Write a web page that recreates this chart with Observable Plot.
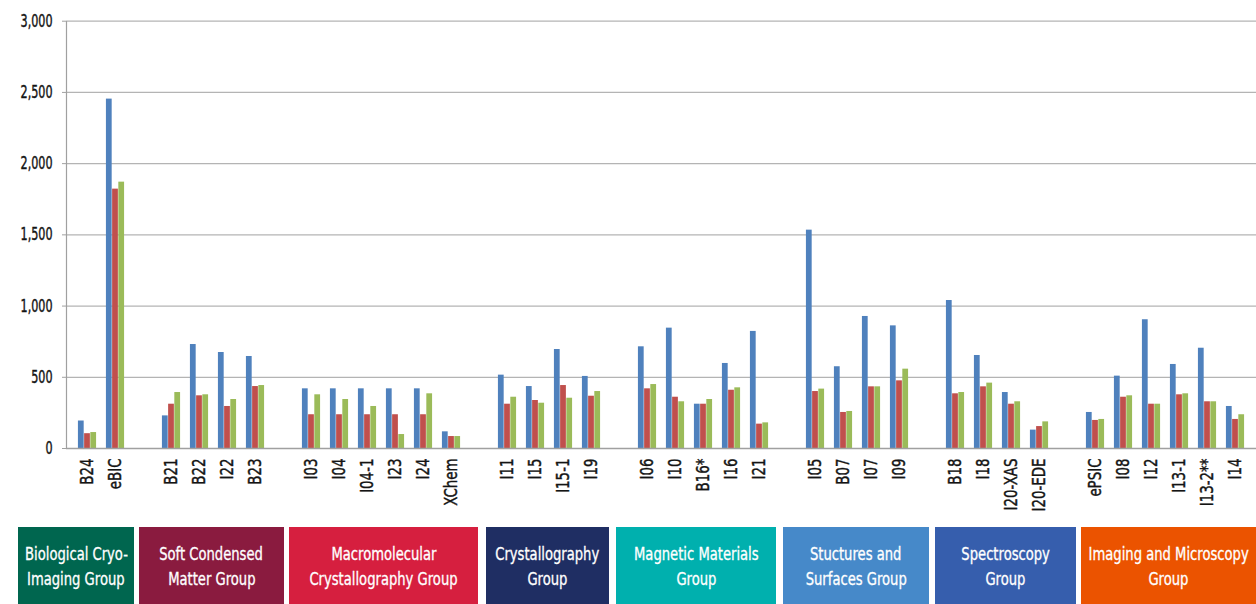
<!DOCTYPE html>
<html><head><meta charset="utf-8">
<script src="https://cdn.jsdelivr.net/npm/d3@7"></script>
<script src="https://cdn.jsdelivr.net/npm/@observablehq/plot@0.6"></script>
<style>
body{margin:0;background:#fff;}
#wrap{position:relative;width:1256px;height:604px;overflow:hidden;font-family:"DejaVu Sans",sans-serif;}
#chart{position:absolute;left:0;top:0;}
.box{position:absolute;top:527px;height:77px;color:#fff;display:flex;flex-direction:column;align-items:center;justify-content:center;text-align:center;font-size:18px;line-height:25px;white-space:nowrap;-webkit-text-stroke:0.35px #fff;}
.box div{display:inline-block;}
</style></head>
<body><div id="wrap"><div id="chart"></div></div>
<script>
// ---- data ----
const groupLabels = [
  ["Biological Cryo-","Imaging Group"],
  ["Soft Condensed","Matter Group"],
  ["Macromolecular","Crystallography Group"],
  ["Crystallography","Group"],
  ["Magnetic Materials","Group"],
  ["Stuctures and","Surfaces Group"],
  ["Spectroscopy","Group"],
  ["Imaging and Microscopy","Group"]
];
const groupMembers = [
  ["B24","eBIC"],
  ["B21","B22","I22","B23"],
  ["I03","I04","I04-1","I23","I24","XChem"],
  ["I11","I15","I15-1","I19"],
  ["I06","I10","B16*","I16","I21"],
  ["I05","B07","I07","I09"],
  ["B18","I18","I20-XAS","I20-EDE"],
  ["ePSIC","I08","I12","I13-1","I13-2**","I14"]
];
const series1 = [193,2453, 229,730,674,646, 419,419,419,419,419,117, 515,435,695,506, 714,845,311,597,822, 1533,574,927,861, 1039,653,393,129, 253,508,904,590,704,295];
const series2 = [104,1821, 311,370,295,435, 237,237,237,237,237,84, 311,337,442,367, 419,360,311,409,171, 400,253,433,475, 384,433,311,154, 197,360,311,377,328,204];
const series3 = [112,1870, 393,377,344,442, 377,344,295,98,384,84, 360,318,353,400, 449,328,344,426,180, 417,260,433,557, 393,459,328,187, 204,370,311,384,328,237];
const seriesNames = ["Series 1","Series 2","Series 3"];
const yTicks = [0,500,1000,1500,2000,2500,3000];

// ---- styles / layout ----
const seriesColors = ["#4F81BD","#C0504D","#9BBB59"];
const groupColors = ["#00664F","#8A1B3F","#D61F3F","#1F2E63","#00B0AE","#4689C9","#365EAD","#EB5300"];
const boxExtents = [[18,134],[139,284],[289,478],[486,609],[616,776],[783,929],[935,1076],[1081,1256]];
const family = '"DejaVu Sans", sans-serif';

// horizontal condensing factors so the wide fallback font matches the condensed original
const ctx = document.createElement("canvas").getContext("2d");
function widthOf(text, size) { ctx.font = size + "px " + family; return ctx.measureText(text).width; }
const boxScale = 105 / widthOf("Macromolecular", 18);
const xLabelScale = 52 / widthOf("I20-XAS", 18.5);
const yLabelScale = 32 / widthOf("3,000", 17);

// build slot domain with spacer slots between groups
const beamlines = groupMembers.flat();
const slots = [];
groupMembers.forEach((g, i) => {
  if (i > 0) slots.push("gap" + i);
  g.forEach(b => slots.push(b));
});
const allSeries = [series1, series2, series3];
const rows = allSeries.map((vals, s) => beamlines.map((b, i) => ({beamline: b, series: seriesNames[s], value: vals[i]})));

const W = 1256, H = 515;
const xRange = [63.8, 1258.3];
const bandwidth = (xRange[1] - xRange[0]) / slots.length;
const barW = 6.2;
const off = (bandwidth - 3 * barW) / 2;

const barMarks = rows.map((data, s) => Plot.barY(data, {
  x: "beamline", y: "value", fill: seriesColors[s],
  insetLeft: off + s * barW,
  insetRight: bandwidth - off - (s + 1) * barW
}));

const plot = Plot.plot({
  width: W, height: H,
  marginLeft: 66, marginRight: 0, marginTop: 21, marginBottom: 67,
  style: {fontFamily: family, color: "#141414", background: "transparent"},
  x: {type: "band", domain: slots, range: xRange, padding: 0},
  y: {domain: [0, 3000], range: [448, 20.7]},
  marks: [
    Plot.gridY(yTicks, {stroke: "#b4b4b4", strokeOpacity: 1, strokeWidth: 1.2}),
    ...barMarks,
    Plot.ruleY([0], {stroke: "#a0a0a0", strokeWidth: 1.5}),
    Plot.frame({anchor: "left", stroke: "#a0a0a0", strokeWidth: 1.2}),
    Plot.axisY({ticks: yTicks, tickFormat: d3.format(","), tickSize: 4, tickPadding: 10, fontSize: 17, label: null, stroke: "#a0a0a0", ariaLabel: "y-axis"}),
    Plot.axisX({tickFormat: d => d.startsWith("gap") ? "" : d, tickRotate: -90, tickSize: 0, tickPadding: 10, fontSize: 18.5, label: null, ariaLabel: "x-axis"})
  ]
});
document.getElementById("chart").appendChild(plot);

// condense tick label text horizontally (along the text direction) and thicken slightly
function condense(sel, s) {
  plot.querySelectorAll(sel).forEach(t => {
    const tr = t.getAttribute("transform");
    if (tr) t.setAttribute("transform", tr + ` scale(${s},1)`);
    else {
      const x = +(t.getAttribute("x") || 0), y = +(t.getAttribute("y") || 0);
      t.removeAttribute("x"); t.removeAttribute("y");
      t.setAttribute("transform", `translate(${x},${y}) scale(${s},1)`);
    }
    t.setAttribute("stroke", "#141414");
    t.setAttribute("stroke-width", "0.45");
  });
}
condense('g[aria-label="y-axis tick label"] text', yLabelScale);
condense('g[aria-label="x-axis tick label"] text', xLabelScale);

const wrap = document.getElementById("wrap");
groupLabels.forEach((lines, i) => {
  const d = document.createElement("div");
  d.className = "box";
  d.style.left = boxExtents[i][0] + "px";
  d.style.width = (boxExtents[i][1] - boxExtents[i][0]) + "px";
  d.style.background = groupColors[i];
  lines.forEach(t => {
    const s = document.createElement("div");
    s.textContent = t;
    s.style.transform = `scaleX(${boxScale})`;
    d.appendChild(s);
  });
  wrap.appendChild(d);
});
</script>
</body></html>
